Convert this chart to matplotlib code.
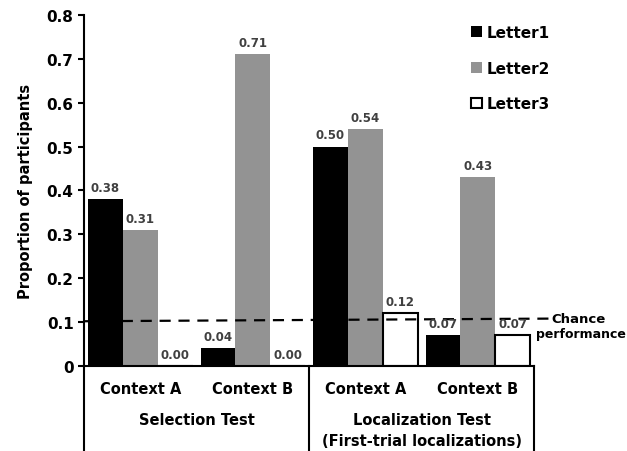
import matplotlib.pyplot as plt
import numpy as np

plt.rcParams['font.family'] = ['DejaVu Sans']
plt.rcParams['font.weight'] = 'bold'

contexts = ["Context A", "Context B", "Context A", "Context B"]
tests = ["Selection Test", "Localization Test\n(First-trial localizations)"]
letter1 = [0.38, 0.04, 0.50, 0.07]
letter2 = [0.31, 0.71, 0.54, 0.43]
letter3 = [0.00, 0.00, 0.12, 0.07]
chance = [0.102, 0.108]

fig = plt.figure(figsize=(6.27, 4.52), dpi=100)
ax = fig.add_axes([0.134, 0.188, 0.718, 0.777])

x = np.arange(len(contexts))
w = 0.31
gray = '#939393'
b1 = ax.bar(x - w, letter1, w, color='black', label='Letter1')
b2 = ax.bar(x, letter2, w, color=gray, label='Letter2')
b3 = ax.bar(x + w, letter3, w, color='white', edgecolor='black', linewidth=1.5, label='Letter3')

for bars in (b1, b2, b3):
    for b in bars:
        ax.text(b.get_x() + b.get_width() / 2, b.get_height() + 0.012,
                '%.2f' % b.get_height(), ha='center', va='bottom',
                fontsize=8.5, color='#404040', fontweight='bold')

ax.set_xlim(-0.5, 3.5)
ax.set_ylim(0, 0.8)
ax.set_yticks(np.arange(0, 0.81, 0.1))
ax.set_yticklabels(['0'] + ['%.1f' % v for v in np.arange(0.1, 0.81, 0.1)])
ax.tick_params(axis='y', labelsize=11, length=4, width=1.5)
ax.set_xticks([])
ax.spines['top'].set_visible(False)
ax.spines['right'].set_visible(False)
ax.spines['left'].set_linewidth(1.5)
ax.spines['bottom'].set_linewidth(1.5)
ax.set_ylabel('Proportion of participants', fontsize=10.5, fontweight='bold', labelpad=10)

# chance line
ax.plot([-0.5, 3.63], chance, ls='--', color='black', lw=1.6, dashes=(5, 3.5), clip_on=False)
ax.text(3.65, 0.109, 'Chance', va='center', ha='left', fontsize=9.5)
ax.text(3.515, 0.075, 'performance', va='center', ha='left', fontsize=9)

# category labels below
trans = ax.get_xaxis_transform()
for xi, c in zip(x, contexts):
    ax.text(xi, -0.065, c, transform=trans, ha='center', va='center', fontsize=10.5)
ax.text(0.5, -0.152, tests[0], transform=trans, ha='center', va='center', fontsize=10.5)
ax.text(2.5, -0.182, tests[1], transform=trans, ha='center', va='center', fontsize=10.5,
        linespacing=1.45)
for xv in (-0.5, 1.5, 3.5):
    ax.plot([xv, xv], [0, -0.25], transform=trans, color='black', lw=1.5, clip_on=False)

ax.legend(loc='upper right', bbox_to_anchor=(1.065, 1.01), frameon=False, fontsize=11,
          handlelength=0.7, handleheight=0.7, handletextpad=0.3, labelspacing=1.35)

plt.savefig('out.png', dpi=100)
